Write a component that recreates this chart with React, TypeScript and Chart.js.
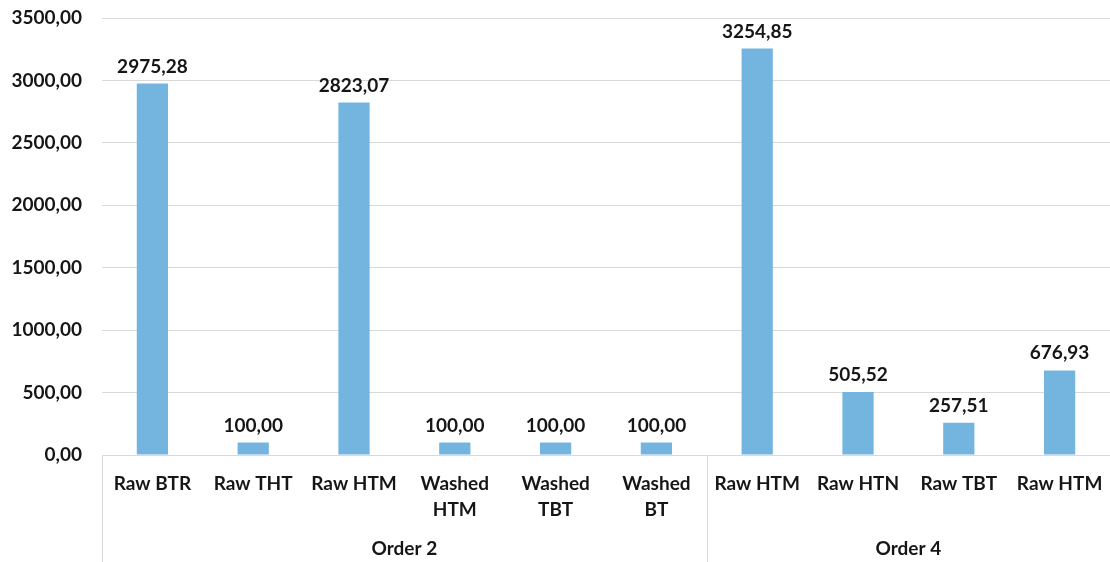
import React, { useEffect, useRef } from "react";
import { Chart, registerables } from "chart.js";

Chart.register(...registerables);

const categories: (string | string[])[] = [
  "Raw BTR",
  "Raw THT",
  "Raw HTM",
  ["Washed", "HTM"],
  ["Washed", "TBT"],
  ["Washed", "BT"],
  "Raw HTM",
  "Raw HTN",
  "Raw TBT",
  "Raw HTM",
];
const values = [2975.28, 100.0, 2823.07, 100.0, 100.0, 100.0, 3254.85, 505.52, 257.51, 676.93];
const groupNames = ["Order 2", "Order 4"];
const groupSizes = [6, 4];
const yTicks = [0, 500, 1000, 1500, 2000, 2500, 3000, 3500];

const FONT = "Lato, 'Open Sans', sans-serif";
const TEXT = "#161616";
const fmt = (v: number) => v.toFixed(2).replace(".", ",");

const overlay = {
  id: "overlay",
  afterDatasetsDraw(chart: any) {
    const { ctx, chartArea } = chart;
    const meta = chart.getDatasetMeta(0);
    ctx.save();
    ctx.font = `bold 19px ${FONT}`;
    ctx.fillStyle = TEXT;
    ctx.textAlign = "center";
    ctx.textBaseline = "alphabetic";
    meta.data.forEach((bar: any, i: number) => {
      ctx.fillText(fmt(values[i]), bar.x, bar.y - 11);
    });
    const xs = chart.scales.x;
    const H = chart.height;
    ctx.strokeStyle = "#d9d9d9";
    ctx.lineWidth = 1;
    const half = (xs.getPixelForValue(1) - xs.getPixelForValue(0)) / 2;
    let start = 0;
    const edges: number[] = [];
    groupSizes.forEach((n) => {
      edges.push(start);
      start += n;
    });
    edges.push(start);
    edges.forEach((e, k) => {
      if (k === edges.length - 1) return;
      const px = Math.round(xs.getPixelForValue(e) - half) + 0.5;
      ctx.beginPath();
      ctx.moveTo(px, chartArea.bottom);
      ctx.lineTo(px, H);
      ctx.stroke();
    });
    ctx.fillStyle = TEXT;
    ctx.font = `bold 19px ${FONT}`;
    ctx.textBaseline = "middle";
    groupNames.forEach((g, k) => {
      const a = xs.getPixelForValue(edges[k]) - half;
      const b = xs.getPixelForValue(edges[k + 1]) - half;
      ctx.fillText(g, (a + b) / 2, 549);
    });
    ctx.restore();
  },
};

export default function App() {
  const ref = useRef<HTMLCanvasElement>(null);
  useEffect(() => {
    document.body.style.margin = "0";
    const chart = new Chart(ref.current!, {
      type: "bar",
      data: {
        labels: categories,
        datasets: [
          {
            data: values,
            backgroundColor: "#74b5e0",
            barPercentage: 0.31,
            categoryPercentage: 1,
          },
        ],
      },
      options: {
        responsive: false,
        animation: false,
        layout: { padding: { top: 18, right: -1, left: 0, bottom: 0 } },
        plugins: { legend: { display: false }, tooltip: { enabled: false } },
        scales: {
          x: {
            grid: { display: false, drawTicks: false },
            border: { display: true, color: "#d9d9d9" },
            ticks: {
              color: TEXT,
              font: { family: FONT, size: 19, weight: "bold", lineHeight: 1.37 },
              padding: 16,
              maxRotation: 0,
              autoSkip: false,
            },
            afterFit: (s: any) => {
              s.height = 107;
              s.paddingLeft = 0;
              s.paddingRight = 0;
            },
          },
          y: {
            min: 0,
            max: 3500,
            afterBuildTicks: (s: any) => {
              s.ticks = yTicks.map((v) => ({ value: v }));
            },
            grid: { color: "#d9d9d9", drawTicks: false },
            border: { display: false },
            ticks: {
              color: TEXT,
              font: { family: FONT, size: 19, weight: "bold" },
              padding: 20,
              callback: (v: any) => fmt(Number(v)),
            },
            afterFit: (s: any) => {
              s.width = 102;
              s.paddingTop = 0;
              s.paddingBottom = 0;
            },
          },
        },
      },
      plugins: [overlay],
    });
    return () => chart.destroy();
  }, []);
  return (
    <div style={{ position: "absolute", left: 0, top: 0, width: 1110, height: 562 }}>
      <canvas ref={ref} width={1110} height={562} />
    </div>
  );
}
